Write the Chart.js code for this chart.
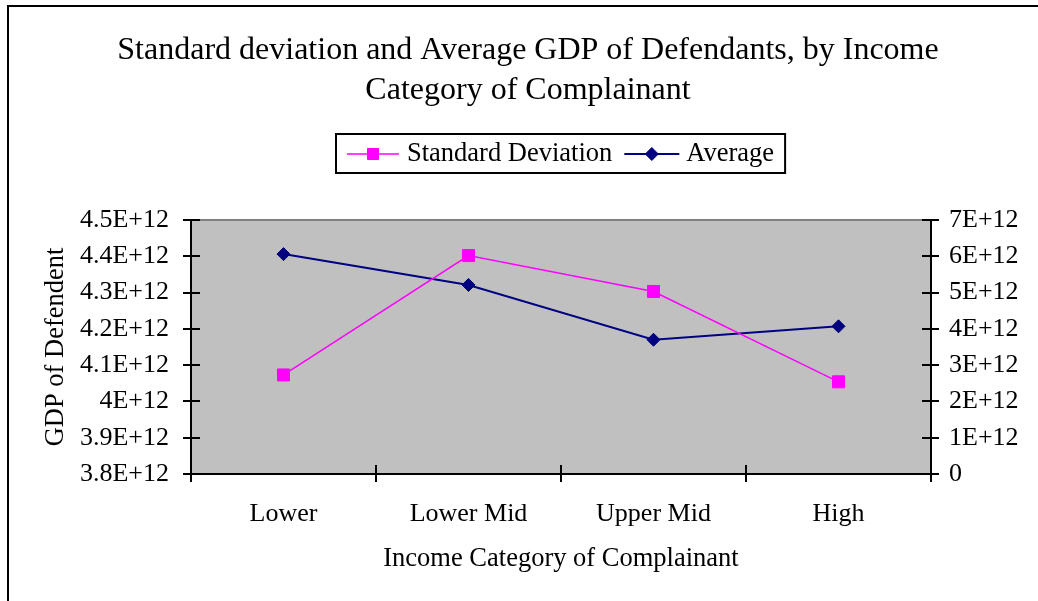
<!DOCTYPE html>
<html>
<head>
<meta charset="utf-8">
<script src="https://cdn.jsdelivr.net/npm/chart.js@4.4.1/dist/chart.umd.min.js"></script>
<style>
  html, body { margin: 0; padding: 0; background: #fff; }
  #wrap { width: 1038px; height: 601px; }
</style>
</head>
<body>
<div id="wrap"><canvas id="gdpChart" width="1038" height="601"></canvas></div>
<script>
const categories = ['Lower', 'Lower Mid', 'Upper Mid', 'High'];
const stdDevValues = [2.73e12, 6.02e12, 5.03e12, 2.54e12];
const averageValues = [4.406e12, 4.321e12, 4.170e12, 4.207e12];
const leftTickLabels = ['3.8E+12', '3.9E+12', '4E+12', '4.1E+12', '4.2E+12', '4.3E+12', '4.4E+12', '4.5E+12'];
const rightTickLabels = ['0', '1E+12', '2E+12', '3E+12', '4E+12', '5E+12', '6E+12', '7E+12'];

const SERIF = '"Liberation Serif", "Times New Roman", serif';
const W = 1038, H = 601;
const PAD_LEFT = 18; // pushes the centred title right, axis width compensates

// little marker helper, used for the legend only
function marker(ctx, style, x, y, r, fill, stroke) {
    ctx.beginPath();
    if (style === 'rect') {
        ctx.rect(x - r, y - r, r * 2, r * 2);
    } else {
        ctx.moveTo(x, y - r); ctx.lineTo(x + r, y); ctx.lineTo(x, y + r); ctx.lineTo(x - r, y); ctx.closePath();
    }
    ctx.fillStyle = fill; ctx.fill();
    ctx.strokeStyle = stroke; ctx.lineWidth = 1; ctx.stroke();
}

const excelLook = {
    id: 'excelLook',
    beforeDraw(chart) {
        const { ctx, chartArea: a } = chart;
        ctx.save();
        ctx.fillStyle = '#c0c0c0';
        ctx.fillRect(a.left, a.top, a.right - a.left, a.bottom - a.top);
        ctx.restore();
    },
    beforeDatasetsDraw(chart) {
        const { ctx, chartArea: a, scales } = chart;
        ctx.save();
        // grey top edge of the plot area
        ctx.strokeStyle = '#808080';
        ctx.lineWidth = 2;
        ctx.beginPath(); ctx.moveTo(a.left, a.top); ctx.lineTo(a.right, a.top); ctx.stroke();
        // inner half of the crossing tick marks
        ctx.strokeStyle = '#000';
        ctx.beginPath();
        scales.y.ticks.forEach((t, i) => {
            const y = Math.round(scales.y.getPixelForTick(i));
            ctx.moveTo(a.left, y); ctx.lineTo(a.left + 9, y);
        });
        scales.y2.ticks.forEach((t, i) => {
            const y = Math.round(scales.y2.getPixelForTick(i));
            ctx.moveTo(a.right - 9, y); ctx.lineTo(a.right, y);
        });
        for (let i = 0; i <= categories.length; i++) {
            const x = Math.round(scales.x.getPixelForValue(i - 0.5));
            ctx.moveTo(x, a.bottom); ctx.lineTo(x, a.bottom - 9);
        }
        ctx.stroke();
        ctx.restore();
    },
    afterDraw(chart) {
        const { ctx, chartArea: a } = chart;
        ctx.save();
        // legend box
        ctx.font = '26.5px ' + SERIF;
        const sets = chart.data.datasets;
        const lineLen = [52, 55];
        const widths = sets.map(d => ctx.measureText(d.label).width);
        const total = 11 + lineLen[0] + 8 + widths[0] + 12 + lineLen[1] + 7 + widths[1] + 11;
        const left = Math.round((a.left + a.right) / 2 - total / 2);
        const top = 134, bottom = 173, midY = 154;
        ctx.strokeStyle = '#000';
        ctx.lineWidth = 2;
        ctx.strokeRect(left, top, total, bottom - top);
        let x = left + 11;
        sets.forEach((d, i) => {
            ctx.strokeStyle = d.borderColor;
            ctx.lineWidth = d.borderWidth;
            ctx.beginPath(); ctx.moveTo(x, midY); ctx.lineTo(x + lineLen[i], midY); ctx.stroke();
            const mx = x + lineLen[i] / 2;
            if (d.pointStyle === 'rect') marker(ctx, 'rect', mx, midY, 5.5, d.pointBackgroundColor, d.pointBorderColor);
            else marker(ctx, 'diamond', mx, midY, 6.5, d.pointBackgroundColor, d.pointBorderColor);
            x += lineLen[i] + (i === 0 ? 8 : 7);
            ctx.fillStyle = '#000';
            ctx.textBaseline = 'middle';
            ctx.textAlign = 'left';
            ctx.fillText(d.label, x, midY);
            x += widths[i] + 12;
        });
        // outer frame (only top and left edges are inside the picture)
        ctx.strokeStyle = '#000';
        ctx.lineWidth = 2;
        ctx.strokeRect(8, 6, W + 20, H + 20);
        ctx.restore();
    }
};

const tickFont = { family: SERIF, size: 26 };
const titleFont = { family: SERIF, size: 26.5 };

new Chart(document.getElementById('gdpChart'), {
    type: 'line',
    data: {
        labels: categories,
        datasets: [
            {
                label: 'Standard Deviation',
                data: stdDevValues,
                yAxisID: 'y2',
                borderColor: '#ff00ff',
                borderWidth: 1.5,
                pointStyle: 'rect',
                pointRadius: 8.5,
                pointHoverRadius: 8.5,
                pointBackgroundColor: '#ff00ff',
                pointBorderColor: '#ff00ff',
                pointBorderWidth: 1,
                tension: 0
            },
            {
                label: 'Average',
                data: averageValues,
                yAxisID: 'y',
                borderColor: '#000080',
                borderWidth: 2,
                pointStyle: 'rectRot',
                pointRadius: 6.5,
                pointHoverRadius: 6.5,
                pointBackgroundColor: '#000080',
                pointBorderColor: '#000080',
                pointBorderWidth: 1,
                tension: 0
            }
        ]
    },
    options: {
        responsive: false,
        animation: false,
        devicePixelRatio: 1,
        layout: { padding: { left: PAD_LEFT, right: 0, top: 0, bottom: 0 } },
        plugins: {
            legend: { display: false },
            tooltip: { enabled: false },
            title: {
                display: true,
                text: ['Standard deviation and Average GDP of Defendants, by Income', 'Category of Complainant'],
                color: '#000',
                font: { family: SERIF, size: 32, weight: 'normal', lineHeight: 1.25 },
                padding: { top: 31, bottom: 109 }
            }
        },
        scales: {
            x: {
                type: 'category',
                offset: true,
                grid: { offset: true, drawOnChartArea: false, color: '#000', lineWidth: 2, tickLength: 8 },
                border: { color: '#000', width: 2 },
                ticks: { color: '#000', font: tickFont, padding: 17, maxRotation: 0, autoSkip: false },
                title: {
                    display: true, text: 'Income Category of Complainant', color: '#000',
                    font: titleFont, padding: { top: 0, bottom: 26 }
                },
                afterFit: s => { s.height = 127; }
            },
            y: {
                position: 'left',
                min: 3.8e12, max: 4.5e12,
                grid: { drawOnChartArea: false, color: '#000', lineWidth: 2, tickLength: 8 },
                border: { color: '#000', width: 2 },
                ticks: {
                    stepSize: 1e11, color: '#000', font: tickFont, padding: 14,
                    callback: v => leftTickLabels[Math.round((v - 3.8e12) / 1e11)]
                },
                title: {
                    display: true, text: 'GDP of Defendent', color: '#000',
                    font: titleFont, padding: { top: 40 - PAD_LEFT, bottom: 0 }
                },
                afterFit: s => { s.width = 191 - PAD_LEFT; }
            },
            y2: {
                position: 'right',
                min: 0, max: 7e12,
                grid: { drawOnChartArea: false, color: '#000', lineWidth: 2, tickLength: 8 },
                border: { color: '#000', width: 2 },
                ticks: {
                    stepSize: 1e12, color: '#000', font: tickFont, padding: 10,
                    callback: v => rightTickLabels[Math.round(v / 1e12)]
                },
                afterFit: s => { s.width = 107; }
            }
        }
    },
    plugins: [excelLook]
});
</script>
</body>
</html>
